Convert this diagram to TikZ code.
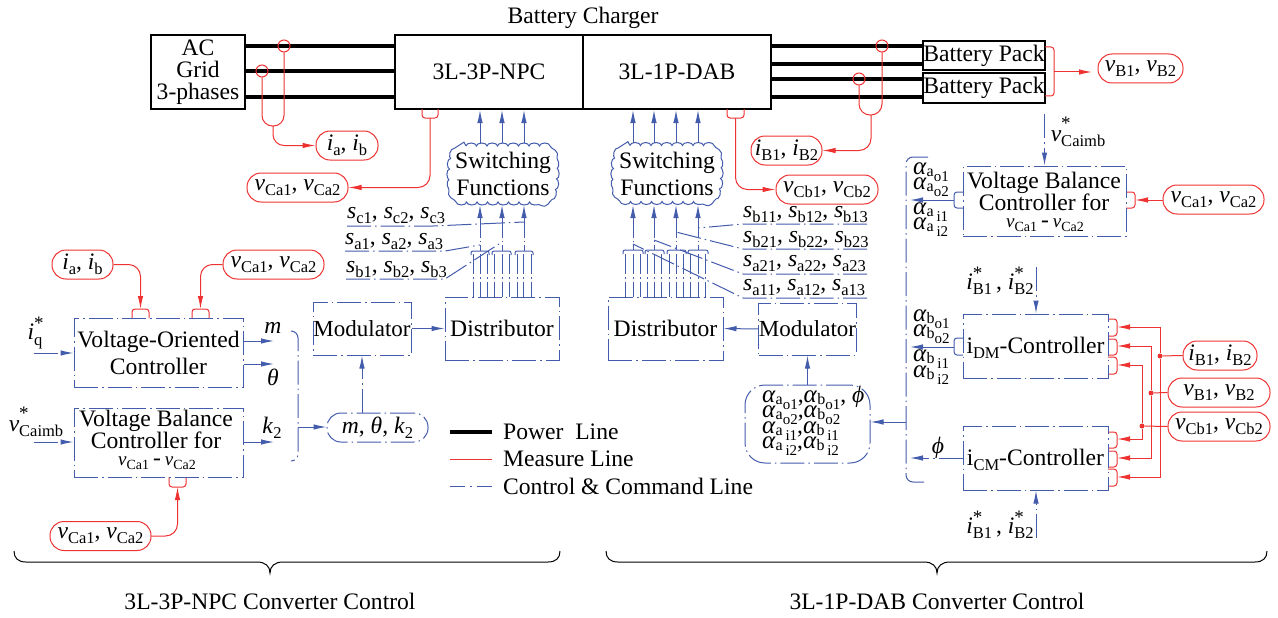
\documentclass[tikz,border=0pt]{standalone}
\usepackage{fontspec}
\setmainfont{Liberation Serif}
\usetikzlibrary{arrows.meta,decorations.pathmorphing}

\definecolor{ctlblue}{RGB}{68,92,172}
\definecolor{measred}{RGB}{238,50,50}

\newcommand{\bigsize}{\fontsize{23.6}{27}\selectfont}
\newcommand{\tightsize}{\fontsize{23.6}{22}\selectfont}
\newcommand{\lab}[2]{\textit{#1}\raisebox{-.22em}{\fontsize{16.5}{18}\selectfont #2}}
\newcommand{\mlab}[2]{{\fontsize{19}{20}\selectfont\textit{#1}\raisebox{-.22em}{\fontsize{14}{16}\selectfont #2}}}
\newcommand{\starlab}[3]{\textit{#1}\rlap{\raisebox{#3}{\fontsize{19}{19}\selectfont *}}\raisebox{-.22em}{\fontsize{16.5}{18}\selectfont #2}}
\newcommand{\alab}[2]{{\fontsize{25}{15}\selectfont\textit{α}}\raisebox{-.12em}{\fontsize{16}{18}\selectfont #1\raisebox{-.3em}{\fontsize{15}{18}\selectfont #2}}}
\newcommand{\ctrlab}[1]{i\raisebox{-.22em}{\fontsize{16.5}{18}\selectfont #1}-Controller}

\tikzset{every node/.style = {font=\bigsize, inner sep=0pt, align=center},
         >={Latex[length=13pt,width=5.5pt]},
         power/.style = {line width=3.4pt, black},
         meas/.style = {line width=1pt, measred},
         cmd/.style = {line width=1pt, ctlblue, dash pattern=on 24pt off 4pt on 1.5pt off 4pt},
         cmdlegend/.style = {line width=1pt, ctlblue, dash pattern=on 15pt off 5pt on 1.5pt off 5pt},
         cmdfine/.style = {line width=1pt, ctlblue, dash pattern=on 20pt off 3pt on 1.5pt off 3pt},
         cmdsolid/.style = {line width=1pt, ctlblue},
         blackbox/.style = {draw, line width=1.1pt, minimum width=#1},
         ctlbox/.style = {cmd, text=black, draw, minimum width=#1},
         tag/.style = {draw=measred, line width=1pt, text=black, rounded corners=14pt, minimum height=29pt, minimum width=#1},
         cloudline/.style = {draw=ctlblue, line width=1pt, decorate, decoration={bumps, segment length=21pt, amplitude=3pt}},
         dot/.style = {circle, fill=measred, minimum size=5pt},
         sensor/.style = {circle, draw=measred, line width=1pt, minimum size=12pt},
        }

\begin{document}
\begin{tikzpicture}[x=1pt, y=-1pt]
  \useasboundingbox (0,0) rectangle (1278,618);

  % power stage
  \node (title) at (583,18) {Battery Charger};
  \node[blackbox=94, minimum height=74, font=\tightsize] (ac) at (198,72) {AC\\Grid\\3-phases};
  \node[blackbox=188, minimum height=74] (npc) at (489,72) {3L-3P-NPC};
  \node[blackbox=188, minimum height=74] (dab) at (677,72) {3L-1P-DAB};
  \node[blackbox=122, minimum height=29] (packa) at (984,55.5) {Battery Pack};
  \node[blackbox=122, minimum height=30] (packb) at (984,88) {Battery Pack};
  \foreach \y in {46,71,97} {\draw[power] (ac.east |- 0,\y) -- (npc.west |- 0,\y);};
  \foreach \y in {46,64,79,97} {\draw[power] (dab.east |- 0,\y) -- (packa.west |- 0,\y);};

  % measured signals, grid and battery side
  \node[sensor] (sena) at (284,46) {};
  \node[sensor] (senb) at (262,71) {};
  \node[sensor] (senc) at (882,46) {};
  \node[sensor] (send) at (859,79) {};
  \node[tag=62] (iab) at (347,145.5) {\lab{i}{a}, \lab{i}{b}};
  \node[tag=101] (vca) at (297.5,187.5) {\lab{v}{Ca1}, \lab{v}{Ca2}};
  \node[tag=71] (ibb) at (786.5,150.5) {\lab{i}{B1}, \lab{i}{B2}};
  \node[tag=102] (vcb) at (827,189.5) {\lab{v}{Cb1}, \lab{v}{Cb2}};
  \node[tag=85] (vbb) at (1140.5,68.5) {\lab{v}{B1}, \lab{v}{B2}};
  \coordinate (joinl) at (273,126);
  \coordinate (joinr) at (871,115);
  \coordinate (tabnpc) at (430,118);
  \coordinate (tabdab) at (735.5,118);
  \coordinate (packtab) at (1054,72);
  \draw[meas, rounded corners=10.5pt] (senb.south) |- (sena.south |- joinl) -- (sena.south);
  \draw[meas, rounded corners=11pt, ->] (joinl) |- (iab.west);
  \draw[meas, rounded corners=11pt] (send.south) |- (senc.south |- joinr) -- (senc.south);
  \draw[meas, rounded corners=12pt, ->] (joinr) |- (ibb.east);
  \draw[meas, rounded corners=12pt, ->] (tabnpc) |- (vca.east);
  \draw[meas, rounded corners=12pt, ->] (tabdab) |- (vcb.west);
  \draw[meas, rounded corners=3pt] (1045,47) -- (1054,47) -- (1054,96) -- (1045,96);
  \draw[meas, ->] (packtab) -- (1092,72);

  % measuring tabs on the box edges
  \foreach \xa/\xb/\ya/\yb in {422/438/109/118, 727/744/109/118, 132/149/318/309, 192/209/318/309, 169/186/477/487}
      {\draw[meas, rounded corners=3pt] (\xa,\ya) -- (\xa,\yb) -- (\xb,\yb) -- (\xb,\ya);};
  \foreach \xa/\xb/\ya/\yb in {1108/1117/319/336, 1108/1117/339/355, 1108/1117/357/374, 1108/1117/432/448, 1108/1117/451/467, 1108/1117/469/486, 1126/1135/192/208}
      {\draw[meas, rounded corners=3pt] (\xa,\ya) -- (\xb,\ya) -- (\xb,\yb) -- (\xa,\yb);};
  \foreach \ya/\yb in {192/208, 338/355}
      {\draw[cmdsolid, rounded corners=3pt] (963,\ya) -- (954,\ya) -- (954,\yb) -- (963,\yb);};

  % left converter control
  \node[ctlbox=169, minimum height=69] (voc) at (158.5,352.5) {Voltage-Oriented\\Controller};
  \node[ctlbox=169, minimum height=69] (vbl) at (158.5,442.5) {};
  \node[font=\tightsize] (vbltext) at (156,429.5) {Voltage Balance\\Controller for};
  \node (vblsub) at (157,463) {\mlab{v}{Ca1}\,-\,\mlab{v}{Ca2}};
  \node[ctlbox=98, minimum height=53, font=\fontsize{23}{27}\selectfont] (modl) at (362,328.5) {Modulator};
  \node[ctlbox=114, minimum height=63] (disl) at (502,328.5) {Distributor};
  \node[ctlbox=101, minimum height=29, rounded corners=14pt] (mtk) at (377.5,427.5) {\textit{m}, \textit{θ}, \lab{k}{2}};
  \node[tag=61] (ial) at (82.5,264.5) {\lab{i}{a}, \lab{i}{b}};
  \node[tag=101] (vtop) at (273.5,264.5) {\lab{v}{Ca1}, \lab{v}{Ca2}};
  \node[tag=101] (vbot) at (100.5,536) {\lab{v}{Ca1}, \lab{v}{Ca2}};
  \node (iqs) at (35,333) {\starlab{i}{q}{.42em}};
  \node (vis) at (36,422) {\starlab{v}{Caimb}{.5em}};
  \node (mout) at (273,328) {\textit{m}};
  \node (tout) at (273,377) {\textit{θ}};
  \node (kout) at (272,428) {\lab{k}{2}};
  \coordinate (tabvi) at (140.5,309);
  \coordinate (tabvv) at (200.5,309);
  \coordinate (tabvb) at (177.5,487);
  \coordinate (iqin) at (34,353);
  \coordinate (viin) at (34,442);
  \coordinate (mend) at (274,341);
  \coordinate (tend) at (274,364);
  \coordinate (kend) at (274,442);
  \coordinate (brkl) at (298,427);
  \draw[meas, rounded corners=12pt, ->] (ial.east) -| (tabvi);
  \draw[meas, rounded corners=12pt, ->] (vtop.west) -| (tabvv);
  \draw[meas, rounded corners=12pt, ->] (vbot.east) -| (tabvb);
  \draw[cmd, ->] (iqin) -- (voc.west |- iqin);
  \draw[cmd, ->] (viin) -- (vbl.west |- viin);
  \draw[cmd, ->] (voc.east |- mend) -- (mend);
  \draw[cmd, ->] (voc.east |- tend) -- (tend);
  \draw[cmd, ->] (vbl.east |- kend) -- (kend);
  \draw[cmd, rounded corners=7pt] (291,331) -- (298,331) -- (298,461) -- (291,461);
  \draw[cmd, ->] (brkl) -- (mtk.west |- brkl);
  \draw[cmd, ->] (modl.south |- mtk.north) -- (modl.south);
  \draw[cmd, ->] (modl.east) -- (disl.west);

  % the two clouds
  \foreach \cx/\cy/\n in {503/174/swl, 667/173.5/swr}
     {\node (\n) at (\cx,\cy) {Switching\\Functions};
      \draw[cloudline] (\cx-37,\cy-28) -- (\cx+37,\cy-28) .. controls (\cx+50,\cy-28) and (\cx+53,\cy-16) .. (\cx+53,\cy)
          .. controls (\cx+53,\cy+16) and (\cx+50,\cy+28) .. (\cx+37,\cy+28) -- (\cx-37,\cy+28)
          .. controls (\cx-50,\cy+28) and (\cx-53,\cy+16) .. (\cx-53,\cy) .. controls (\cx-53,\cy-16) and (\cx-50,\cy-28) .. (\cx-37,\cy-28);};

  % switching functions, 3L-3P-NPC
  \foreach \i/\x in {1/480,2/502,3/524}
     {\coordinate (swlin\i) at (\x,205);
      \coordinate (swlun\i) at (\x,251);
      \draw[cmdsolid, ->] (\x,143) -- (\x,110);
      \draw[cmdfine, <-] (swlin\i) -- (swlun\i);};
  \foreach \a/\b/\c in {473/480/487, 494/502/509, 517/523/531}
     {\draw[cmdsolid, rounded corners=2pt] (\a-2,255) -- (\a-2,251) -- (\c+2,251) -- (\c+2,255);
      \foreach \k in {\a,\b,\c} {\draw[cmdfine] (\k,254) -- (\k,297);};};
  \node[anchor=base west] (sct) at (347,218) {\lab{s}{c1}, \lab{s}{c2}, \lab{s}{c3}};
  \node[anchor=base west] (sat) at (345,244) {\lab{s}{a1}, \lab{s}{a2}, \lab{s}{a3}};
  \node[anchor=base west] (sbt) at (346,272) {\lab{s}{b1}, \lab{s}{b2}, \lab{s}{b3}};
  \foreach \n/\xa/\xb/\yy/\xc/\yc in {sc/347/433/226/524/222, sa/345/445/251/480/245, sb/346/445/279/502/242}
     {\coordinate (\n l) at (\xa,\yy);
      \coordinate (\n m) at (\xb,\yy);
      \coordinate (\n e) at (\xc,\yc);
      \draw[cmd] (\n l) -- (\n m) -- (\n e);};

  % switching functions, 3L-1P-DAB
  \foreach \i/\x in {1/633,2/654,3/676,4/698}
     {\coordinate (swrin\i) at (\x,205);
      \coordinate (swrun\i) at (\x,250);
      \draw[cmdsolid, ->] (\x,143) -- (\x,110);
      \draw[cmdfine, <-] (swrin\i) -- (swrun\i);};
  \foreach \a/\b/\c in {625/633/640, 647/654/661, 669/676/683, 690/698/705}
     {\draw[cmdsolid, rounded corners=2pt] (\a-2,254) -- (\a-2,250) -- (\c+3,250) -- (\c+3,254);
      \foreach \k in {\a,\b,\c} {\draw[cmdfine] (\k,254) -- (\k,297);};};
  \node[anchor=base west] (sbat) at (743,217) {\lab{s}{b11}, \lab{s}{b12}, \lab{s}{b13}};
  \node[anchor=base west] (sbbt) at (743,242) {\lab{s}{b21}, \lab{s}{b22}, \lab{s}{b23}};
  \node[anchor=base west] (sabt) at (743,266) {\lab{s}{a21}, \lab{s}{a22}, \lab{s}{a23}};
  \node[anchor=base west] (saat) at (743,290) {\lab{s}{a11}, \lab{s}{a12}, \lab{s}{a13}};
  \foreach \n/\yy/\xc/\yc in {ra/224/698/228, rb/249/676/232, rc/274/654/240, rd/298/633/244}
     {\coordinate (\n l) at (867,\yy);
      \coordinate (\n m) at (743,\yy);
      \coordinate (\n e) at (\xc,\yc);
      \draw[cmd] (\n l) -- (\n m) -- (\n e);};
  \node[ctlbox=115, minimum height=63] (disr) at (665.5,328.5) {Distributor};
  \node[ctlbox=97, minimum height=52, font=\fontsize{23}{27}\selectfont] (modr) at (807.5,329) {Modulator};
  \node[ctlbox=125, minimum height=78, rounded corners=20pt] (alph) at (807.5,424) {};
  \foreach \n/\yy/\t in {tra/402/{\alab{a}{o1},\alab{b}{o1}, \textit{ϕ}}, trb/417/{\alab{a}{o2},\alab{b}{o2}},
                         trc/433/{\alab{a\,}{i1},\alab{b\,}{i1}}, trd/448/{\alab{a\,}{i2},\alab{b\,}{i2}}}
     {\node[anchor=base west] (\n) at (762,\yy) {\t};};
  \draw[cmd, ->] (modr.west) -- (disr.east);
  \draw[cmd, ->] (alph.north) -- (modr.south);

  % right converter control
  \node[ctlbox=163, minimum height=70] (vbr) at (1044.5,201) {};
  \node[font=\tightsize] (vbrtext) at (1044,191) {Voltage Balance\\Controller for};
  \node (vbrsub) at (1045,225) {\mlab{v}{Ca1}\,-\,\mlab{v}{Ca2}};
  \node[ctlbox=145, minimum height=64, text height=17pt, text depth=2pt] (idm) at (1035.5,346) {\ctrlab{DM}};
  \node[ctlbox=145, minimum height=64, text height=17pt, text depth=2pt] (icm) at (1035.5,458) {\ctrlab{CM}};
  \node[tag=101] (vcr) at (1213.5,199.5) {\lab{v}{Ca1}, \lab{v}{Ca2}};
  \node[tag=74] (ibr) at (1220,355.5) {\lab{i}{B1}, \lab{i}{B2}};
  \node[tag=102] (vbr2) at (1219,392.5) {\lab{v}{B1}, \lab{v}{B2}};
  \node[tag=102] (vcbr) at (1219,426.5) {\lab{v}{Cb1}, \lab{v}{Cb2}};
  \node (vis2) at (1078,132) {\starlab{v}{Caimb}{.5em}};
  \node (ibt) at (1000,281) {\starlab{i}{B1}{.42em}\,, \starlab{i}{B2}{.42em}};
  \node (ibd) at (1000,525) {\starlab{i}{B1}{.42em}\,, \starlab{i}{B2}{.42em}};
  \node (phi) at (938,448) {\textit{ϕ}};
  \foreach \n/\yy/\g/\o in {aa/174/a/o1, ab/189/a/o2, ac/214/a\,/i1, ad/229/a\,/i2, ba/321/b/o1, bb/336/b/o2, bc/361/b\,/i1, bd/377/b\,/i2}
     {\node[anchor=base west] (\n) at (913,\yy) {\alab{\g}{\o}};};
  \coordinate (vbrin) at (1044.5,114);
  \coordinate (tabvbr) at (1135,200);
  \coordinate (tabvbl) at (954,200);
  \coordinate (vbrout) at (910,200);
  \coordinate (tabidm) at (954,347);
  \coordinate (idmout) at (910,347);
  \coordinate (icmout) at (910,458);
  \coordinate (idmin) at (1036,267);
  \coordinate (icmin) at (1036,538);
  \coordinate (bust) at (928,157);
  \coordinate (busb) at (928,482);
  \coordinate (busj) at (906,422);
  \draw[cmd, ->] (vbrin) -- (vbr.north);
  \draw[meas, ->] (vcr.west |- tabvbr) -- (tabvbr);
  \draw[cmdsolid, ->] (tabvbl) -- (vbrout);
  \draw[cmdsolid, ->] (tabidm) -- (idmout);
  \draw[cmd, ->] (icm.west |- icmout) -- (icmout);
  \draw[cmd, ->] (idmin) -- (idm.north -| idmin);
  \draw[cmd, ->] (icmin) -- (icm.south -| icmin);
  \draw[cmd, rounded corners=7pt] (bust) -- (906,157) -- (906,482) -- (busb);
  \draw[cmdsolid, ->] (busj) -- (alph.east |- busj);

  % measure bus of the two current controllers
  \node[dot] (jib) at (1160,356) {};
  \node[dot] (jvb) at (1151,393) {};
  \node[dot] (jvc) at (1142,426) {};
  \foreach \n/\yy in {dma/327, dmb/346, dmc/365, cma/439, cmb/458, cmc/477} {\coordinate (\n) at (1117,\yy);};
  \draw[meas] (ibr.west) -- (jib);
  \draw[meas] (vbr2.west) -- (jvb);
  \draw[meas] (vcbr.west) -- (jvc);
  \draw[meas, ->] (jib) |- (dma);
  \draw[meas, ->] (jib) |- (cmc);
  \draw[meas, ->] (jvb) |- (dmb);
  \draw[meas, ->] (jvb) |- (cmb);
  \draw[meas, ->] (jvc) |- (dmc);
  \draw[meas, ->] (jvc) |- (cma);

  % legend
  \coordinate (lpwa) at (450,432);
  \coordinate (lpwb) at (492,432);
  \coordinate (lmsa) at (450,459);
  \coordinate (lmsb) at (492,459);
  \coordinate (lcta) at (450,486);
  \coordinate (lctb) at (492,486);
  \draw[power] (lpwa) -- (lpwb);
  \draw[meas] (lmsa) -- (lmsb);
  \draw[cmdlegend] (lcta) -- (lctb);
  \node[anchor=west] (lpw) at (503,432) {Power\ \ Line};
  \node[anchor=west] (lms) at (503,459) {Measure Line};
  \node[anchor=west] (lct) at (503,486) {Control \& Command Line};

  % the two braces
  \foreach \xa/\xt/\xb/\n/\t in {14/270/560/bracel/3L-3P-NPC Converter Control, 606/937/1267/bracer/3L-1P-DAB Converter Control}
     {\draw[line width=1pt] (\xa,551) .. controls (\xa,558) and (\xa+4,562) .. (\xa+12,562) -- (\xt-13,562) .. controls (\xt-5,562) and (\xt,566) .. (\xt,573)
         .. controls (\xt,566) and (\xt+5,562) .. (\xt+13,562) -- (\xb-12,562) .. controls (\xb-4,562) and (\xb,558) .. (\xb,551);
      \node (\n) at (\xt,601.5) {\t};};
\end{tikzpicture}
\end{document}
